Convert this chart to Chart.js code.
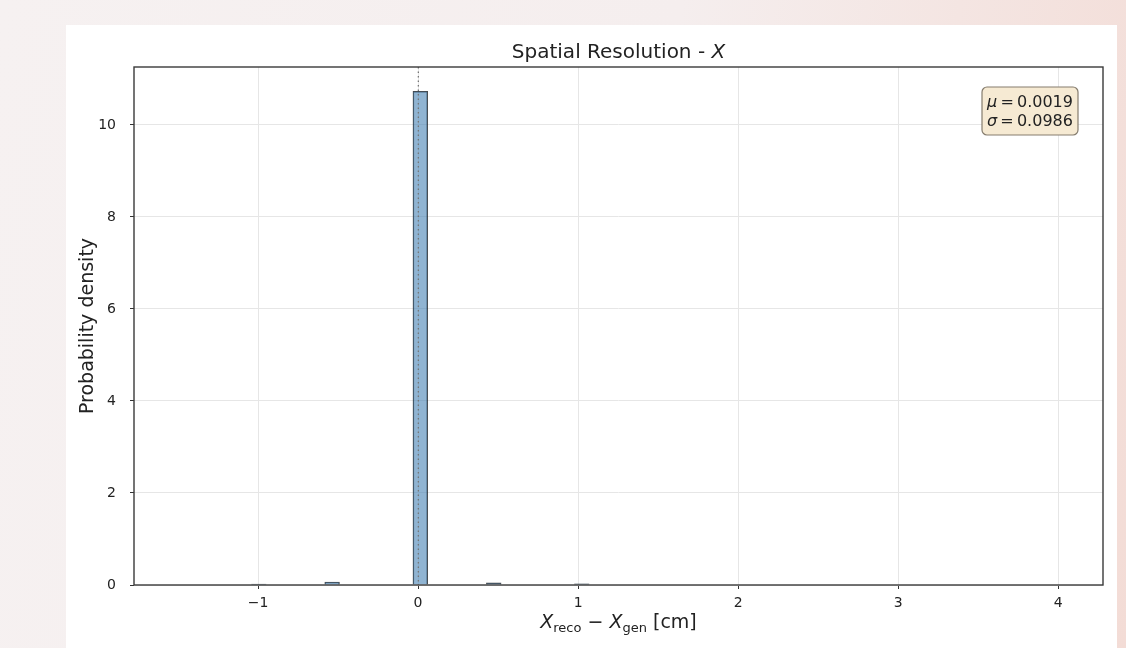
<!DOCTYPE html>
<html>
<head>
<meta charset="utf-8">
<script src="https://cdn.jsdelivr.net/npm/chart.js@4.4.1/dist/chart.umd.min.js"></script>
<style>
  html, body { margin: 0; padding: 0; }
  body {
    width: 1126px; height: 648px; overflow: hidden; position: relative;
    background: linear-gradient(100deg, #f6f1f1 0%, #f5eeee 55%, #f3dcd6 100%);
  }
  .card { position: absolute; left: 66px; top: 25px; width: 1051px; height: 623px; background: #fff; }
  canvas { display: block; }
</style>
</head>
<body>
<div class="card"><canvas id="chart" width="1051" height="623"></canvas></div>
<script>
// histogram bins (centre, density)
const binCenters = [-0.995, -0.537, 0.014, 0.473, 1.023];
const densities = [0.02, 0.065, 10.73, 0.045, 0.025];
const BIN_WIDTH = 0.0918;

const xTicks = [-1, 0, 1, 2, 3, 4];
const yTicks = [0, 2, 4, 6, 8, 10];
const X_MIN = -1.775;
const X_MAX = 4.28;
const Y_MAX = 11.26;

const MU = 0.0019;
const SIGMA = 0.0986;

const FONT = '"DejaVu Sans", sans-serif';
const TEXT = '#222';

// draws a row of text pieces with different fonts / offsets
const drawRuns = (ctx, runs, x, y, align) => {
    let total = 0;
    runs.forEach(r => {
        ctx.font = r.font;
        r.w = ctx.measureText(r.text).width;
        total += r.w;
    });
    let cx = align === 'center' ? x - total / 2 : x;
    ctx.textAlign = 'left';
    ctx.textBaseline = 'alphabetic';
    runs.forEach(r => {
        ctx.font = r.font;
        ctx.fillText(r.text, cx, y + (r.dy || 0));
        cx += r.w;
    });
    return total;
};

const decor = {
    id: 'decor',
    afterDatasetsDraw(chart) {
        const { ctx, chartArea: a, scales: { x } } = chart;
        const px = x.getPixelForValue(MU);

        ctx.save();
        ctx.strokeStyle = '#777';
        ctx.lineWidth = 1.3;
        ctx.setLineDash([1.5, 3]);
        ctx.beginPath();
        ctx.moveTo(px, a.top);
        ctx.lineTo(px, a.bottom);
        ctx.stroke();
        ctx.setLineDash([]);

        ctx.strokeStyle = '#3a3a3a';
        ctx.lineWidth = 1.4;
        ctx.strokeRect(a.left, a.top, a.right - a.left, a.bottom - a.top);
        ctx.restore();
    },
    afterDraw(chart) {
        const { ctx, chartArea: a } = chart;
        const midX = (a.left + a.right) / 2;
        ctx.save();
        ctx.fillStyle = TEXT;

        // title
        drawRuns(ctx, [
            { text: 'Spatial Resolution - ', font: `20px ${FONT}` },
            { text: 'X', font: `italic 20px ${FONT}` },
        ], midX, 33, 'center');

        // x axis label
        drawRuns(ctx, [
            { text: 'X', font: `italic 19px ${FONT}` },
            { text: 'reco', font: `13px ${FONT}`, dy: 4 },
            { text: ' \u2212 ', font: `19px ${FONT}` },
            { text: 'X', font: `italic 19px ${FONT}` },
            { text: 'gen', font: `13px ${FONT}`, dy: 4 },
            { text: ' [cm]', font: `19px ${FONT}` },
        ], midX, 603, 'center');

        // y axis label
        ctx.save();
        ctx.translate(22, (a.top + a.bottom) / 2);
        ctx.rotate(-Math.PI / 2);
        ctx.font = `19px ${FONT}`;
        ctx.textAlign = 'center';
        ctx.textBaseline = 'middle';
        ctx.fillText('Probability density', 0, 0);
        ctx.restore();

        // stats box
        const bw = 96, bh = 48;
        const bx = a.right - 25 - bw, by = a.top + 20;
        ctx.beginPath();
        ctx.roundRect(bx, by, bw, bh, 5);
        ctx.fillStyle = '#f6ead3';
        ctx.fill();
        ctx.strokeStyle = '#857c6e';
        ctx.lineWidth = 1.2;
        ctx.stroke();

        ctx.fillStyle = TEXT;
        drawRuns(ctx, [
            { text: '\u03bc', font: `italic 16px ${FONT}` },
            { text: '\u2009=\u2009', font: `16px ${FONT}` },
            { text: MU.toFixed(4), font: `16px ${FONT}` },
        ], bx + 5, by + 20, 'left');
        drawRuns(ctx, [
            { text: '\u03c3', font: `italic 16px ${FONT}` },
            { text: '\u2009=\u2009', font: `16px ${FONT}` },
            { text: SIGMA.toFixed(4), font: `16px ${FONT}` },
        ], bx + 5, by + 38.5, 'left');
        ctx.restore();
    },
};

const canvas = document.getElementById('chart');
const chart = new Chart(canvas, {
    type: 'bar',
    data: {
        datasets: [{
            data: binCenters.map((c, i) => ({ x: c, y: densities[i] })),
            backgroundColor: 'rgba(70, 130, 180, 0.6)',
            borderColor: 'rgba(20, 20, 20, 0.8)',
            borderWidth: 0.8,
            barPercentage: 1,
            categoryPercentage: 1,
        }],
    },
    options: {
        responsive: false,
        animation: false,
        layout: { padding: { top: 42, right: 14, left: 0, bottom: 0 } },
        plugins: { legend: { display: false }, tooltip: { enabled: false } },
        scales: {
            x: {
                type: 'linear',
                min: X_MIN,
                max: X_MAX,
                offset: false,
                afterBuildTicks: s => { s.ticks = xTicks.map(v => ({ value: v })); },
                afterFit: s => { s.height = 63; },
                border: { display: false },
                grid: { offset: false, color: '#e6e6e6', lineWidth: 1, tickColor: '#333', tickLength: 4 },
                ticks: {
                    color: TEXT,
                    padding: 6,
                    maxRotation: 0,
                    font: { family: FONT, size: 14 },
                    callback: v => (v < 0 ? '\u2212' + Math.abs(v) : String(v)),
                },
            },
            y: {
                min: 0,
                max: Y_MAX,
                afterBuildTicks: s => { s.ticks = yTicks.map(v => ({ value: v })); },
                afterFit: s => { s.width = 68; },
                border: { display: false },
                grid: { color: '#e6e6e6', lineWidth: 1, tickColor: '#333', tickLength: 4 },
                ticks: {
                    color: TEXT,
                    padding: 14,
                    font: { family: FONT, size: 14 },
                },
            },
        },
    },
    plugins: [decor],
});

// bar width = one histogram bin on the x scale
const xs = chart.scales.x;
chart.data.datasets[0].barThickness = Math.abs(xs.getPixelForValue(BIN_WIDTH) - xs.getPixelForValue(0));
chart.update('none');
</script>
</body>
</html>
